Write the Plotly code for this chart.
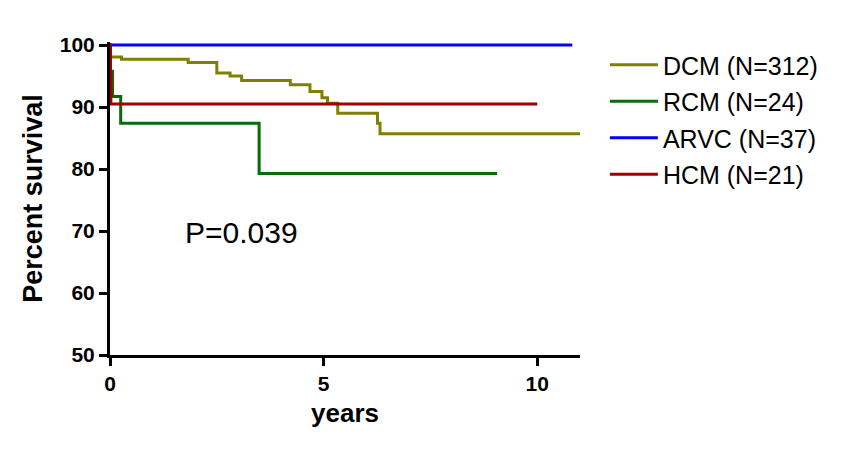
import plotly.graph_objects as go

# Data
dcm_t = [0, 0.27, 1.83, 2.5, 2.81, 3.08, 4.22, 4.68, 4.96, 5.09, 5.33, 6.26, 6.32, 11.0]
dcm_s = [98.1, 97.7, 97.2, 95.5, 95.0, 94.3, 93.6, 92.5, 91.5, 90.6, 89.0, 87.4, 85.7, 85.7]

rcm_t = [0, 0.01, 0.06, 0.25, 3.49, 9.06]
rcm_s = [100, 95.8, 91.7, 87.4, 79.3, 79.3]

arvc_t = [0, 10.82]
arvc_s = [100, 100]

hcm_t = [0, 0.01, 0.02, 10.0]
hcm_s = [100, 95.2, 90.5, 90.5]

names = ["DCM (N=312)", "RCM (N=24)", "ARVC (N=37)", "HCM (N=21)"]
colors = ["#808000", "#0a6b0a", "#0000ff", "#a00000"]
series = [(dcm_t, dcm_s), (rcm_t, rcm_s), (arvc_t, arvc_s), (hcm_t, hcm_s)]

x_ticks = [0, 5, 10]
y_ticks = [50, 60, 70, 80, 90, 100]
p_text = "P=0.039"

fig = go.Figure()
for i, ((t, s), n, c) in enumerate(zip(series, names, colors)):
    fig.add_trace(go.Scatter(
        x=t, y=s, mode="lines", name=n, line=dict(color=c, width=3, shape="hv"),
        legendgroup=f"g{i}",
    ))

font_family = "Liberation Sans, Arial, sans-serif"

fig.update_layout(
    width=846, height=451,
    margin=dict(l=102, r=274, t=34, b=104),
    paper_bgcolor="white", plot_bgcolor="white",
    showlegend=True,
    legend=dict(
        x=1.053, y=1.0, xanchor="left", yanchor="top",
        font=dict(family=font_family, size=25, color="black"),
        tracegroupgap=1, itemwidth=48, bgcolor="rgba(0,0,0,0)",
    ),
    xaxis=dict(
        range=[0, 11], tickvals=x_ticks, ticktext=[str(v) for v in x_ticks],
        showgrid=False, zeroline=False, showline=True, linecolor="black", linewidth=3,
        ticks="outside", ticklen=8, tickwidth=3, tickcolor="black",
        tickfont=dict(family=font_family, size=21, color="black", weight="bold"),
        title=dict(text="<b>years</b>", font=dict(family=font_family, size=26, color="black"), standoff=10),
    ),
    yaxis=dict(
        range=[50, 100.5], tickvals=y_ticks, ticktext=[str(v) for v in y_ticks],
        showgrid=False, zeroline=False, showline=True, linecolor="black", linewidth=3,
        ticks="outside", ticklen=8, tickwidth=3, tickcolor="black",
        tickfont=dict(family=font_family, size=21, color="black", weight="bold"),
        title=dict(text="<b>Percent survival</b>", font=dict(family=font_family, size=27, color="black"), standoff=10),
    ),
    annotations=[dict(
        x=3.07, y=69.8, xref="x", yref="y", text=p_text, showarrow=False,
        xanchor="center", yanchor="middle",
        font=dict(family=font_family, size=30, color="black"),
    )],
)

fig.write_html("out.html")
